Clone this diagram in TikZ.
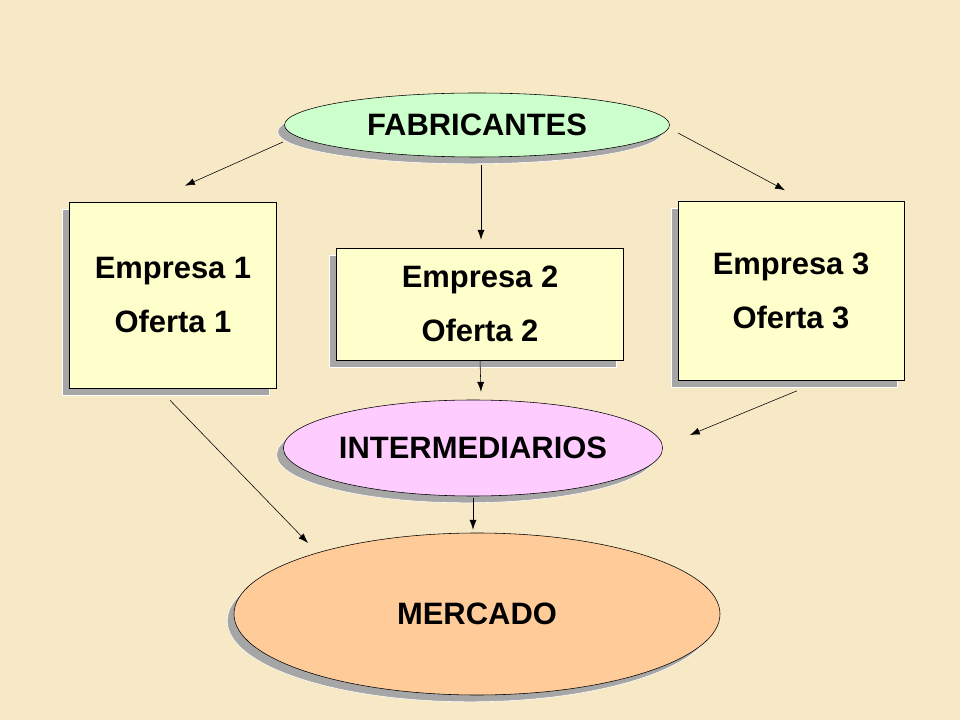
\documentclass[tikz,border=0pt]{standalone}
\usepackage{fontspec}
\setmainfont{Liberation Sans}
\usetikzlibrary{shadows,arrows.meta,calc,shapes.geometric}
\definecolor{bgcol}{HTML}{F7E8C6}
\definecolor{boxcol}{HTML}{FFFFCC}
\definecolor{fabcol}{HTML}{CCFFCC}
\definecolor{intcol}{HTML}{FFCCFF}
\definecolor{mercol}{HTML}{FFCC99}
\begin{document}
\begin{tikzpicture}[x=0.025cm,y=-0.025cm,
    >={Latex[length=7pt,width=5pt]},
    shadowed/.style={drop shadow={shadow xshift=-0.17cm,shadow yshift=-0.17cm,fill=gray!70,opacity=1,draw=white}},
    empresa/.style={draw,rectangle,fill=boxcol,shadowed,align=center,font=\fontsize{22}{38}\selectfont\bfseries},
    oval/.style={draw,ellipse,shadowed,align=center,inner sep=0pt,font=\fontsize{22}{30}\selectfont\bfseries}]

    \fill[bgcol] (0,0) rectangle (960,720);

    % ovals
    \node[oval,fill=fabcol,minimum width=385*0.025cm,minimum height=64*0.025cm] (fab) at (477,125) {FABRICANTES};
    \node[oval,fill=intcol,minimum width=330*0.025cm,minimum height=96*0.025cm] (inter) at (473,448) {INTERMEDIARIOS};
    \node[oval,fill=mercol,minimum width=486*0.025cm,minimum height=162*0.025cm] (merc) at (477,614) {MERCADO};

    % companies
    \node[empresa,minimum width=207*0.025cm,minimum height=186*0.025cm] (e1) at (173,295) {Empresa 1\\ Oferta 1};
    \node[empresa,minimum width=287*0.025cm,minimum height=112*0.025cm] (e2) at (480,304) {Empresa 2\\ Oferta 2};
    \node[empresa,minimum width=226*0.025cm,minimum height=179*0.025cm] (e3) at (791,291) {Empresa 3\\ Oferta 3};

    % connectors
    \draw[->] ($(fab)+(-194,17)$) -- ($(e1.north)+(12,-16)$);
    \draw[->] ($(fab.south)+(4,8)$) -- ($(e2.north)+(1,-8)$);
    \draw[->] ($(fab)+(201,8)$) -- ($(e3.north)+(-6,-11)$);
    \draw[->] (e2.south) -- ($(inter.north)+(8,-8)$);
    \draw[->] ($(e3.south)+(6,10)$) -- ($(inter.east)+(27,-13)$);
    \draw[->] ($(e1.south)+(-3,12)$) -- ($(merc)+(-169,-71)$);
    \draw[->] ($(inter.south)+(0,2)$) -- ($(merc.north)+(-4,-3)$);

\end{tikzpicture}
\end{document}
